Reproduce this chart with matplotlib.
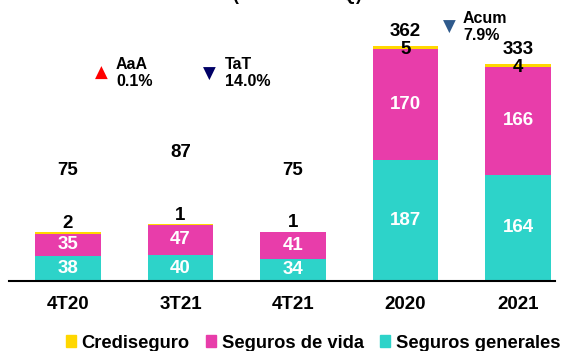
import numpy as np
import matplotlib.pyplot as plt
from matplotlib.patches import Patch

plt.rcParams['font.family'] = ['Liberation Sans', 'DejaVu Sans']
plt.rcParams['font.weight'] = 'bold'

periodos = ['4T20', '3T21', '4T21', '2020', '2021']
generales = [38, 40, 34, 187, 164]
vida = [35, 47, 41, 170, 166]
crediseguro = [2, 1, 1, 5, 4]
totales = [75, 87, 75, 362, 333]

c_gen = '#2DD3C9'
c_vida = '#E83DAA'
c_cred = '#FFD700'

fig = plt.figure(figsize=(5.64, 3.51), dpi=100)
ax = fig.add_axes([9 / 564, 70 / 351, 546 / 564, 281 / 351])

x = np.arange(len(periodos))
w = 0.58
gen = np.array(generales)
vid = np.array(vida)
cre = np.array(crediseguro)

ax.bar(x, gen, w, color=c_gen)
ax.bar(x, vid, w, bottom=gen, color=c_vida)
ax.bar(x, cre, w, bottom=gen + vid, color=c_cred)

for i in range(len(x)):
    ax.text(x[i], gen[i] / 2, str(gen[i]), ha='center', va='center',
            color='white', fontsize=13.5)
    ax.text(x[i], gen[i] + vid[i] / 2, str(vid[i]), ha='center', va='center',
            color='white', fontsize=13.5)
    tope = gen[i] + vid[i] + cre[i]
    if i < 3:
        # trimestres: etiqueta de crediseguro encima, total mas arriba
        ax.text(x[i], tope + 0.5, str(cre[i]), ha='center', va='bottom',
                color='black', fontsize=13.5)
        ax.text(x[i], totales[i] * 2.28, str(totales[i]), ha='center',
                va='center', color='black', fontsize=13.5)
    else:
        ax.text(x[i], tope - 5, str(cre[i]), ha='center', va='center',
                color='black', fontsize=13.5)
        ax.text(x[i], tope + 22, str(totales[i]), ha='center', va='center',
                color='black', fontsize=13.5)

ax.set_xlim(-0.524, 4.329)
ax.set_ylim(0, 433)
for s in ['top', 'right', 'left']:
    ax.spines[s].set_visible(False)
ax.spines['bottom'].set_linewidth(1.5)
ax.set_yticks([])
ax.set_xticks(x)
ax.set_xticklabels(periodos, fontsize=13.5)
ax.tick_params(axis='x', length=0, pad=11)

# indicadores de variacion
fig.text(101 / 564, 1 - 73 / 351, '▲', color='#FF0000', fontsize=12,
         ha='center', va='center', family='DejaVu Sans')
fig.text(116 / 564, 1 - 73 / 351, 'AaA\n0.1%', fontsize=11.5, ha='left',
         va='center', linespacing=1.1)
fig.text(209 / 564, 1 - 74 / 351, '▼', color='#000066', fontsize=12,
         ha='center', va='center', family='DejaVu Sans')
fig.text(225 / 564, 1 - 73 / 351, 'TaT\n14.0%', fontsize=11.5, ha='left',
         va='center', linespacing=1.1)
fig.text(449 / 564, 1 - 27 / 351, '▼', color='#2F5A8C', fontsize=12,
         ha='center', va='center', family='DejaVu Sans')
fig.text(463 / 564, 1 - 27 / 351, 'Acum\n7.9%', fontsize=11.5, ha='left',
         va='center', linespacing=1.1)

fig.text(297 / 564, 1.0, '(Millones de Q)', fontsize=13, ha='center',
         va='baseline')

handles = [Patch(color=c_cred, label='Crediseguro'),
           Patch(color=c_vida, label='Seguros de vida'),
           Patch(color=c_gen, label='Seguros generales')]
fig.legend(handles=handles, loc='center', bbox_to_anchor=(313 / 564, 8 / 351),
           ncol=3, frameon=False, fontsize=13.2, handlelength=0.55,
           handleheight=0.55, handletextpad=0.3, columnspacing=0.9)

fig.savefig('out.png', dpi=100)
